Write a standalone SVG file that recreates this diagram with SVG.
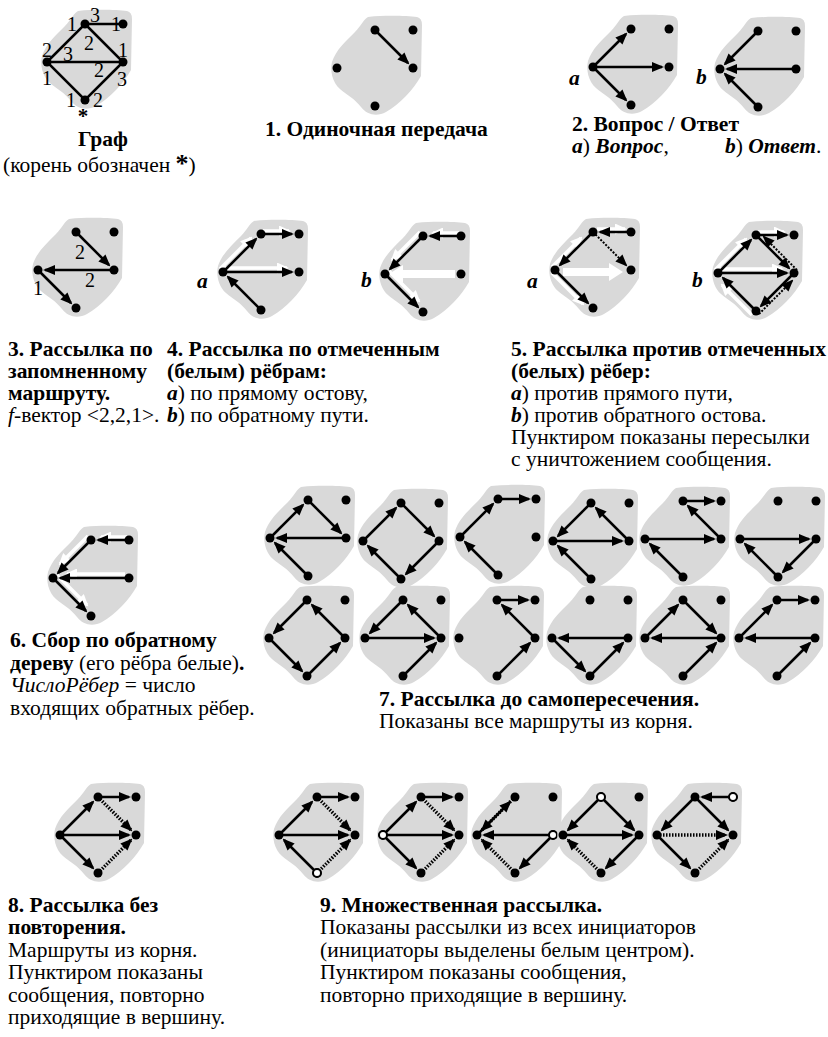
<svg xmlns="http://www.w3.org/2000/svg" width="828" height="1037" viewBox="0 0 828 1037" font-family="'Liberation Serif', 'DejaVu Serif', serif">
<style>
text{font-family:'Liberation Serif','DejaVu Serif',serif;font-size:21.5px;fill:#000}
.b{font-weight:bold}
.i{font-style:italic}
.bi{font-weight:bold;font-style:italic}
.n{font-size:20px;text-anchor:middle}
.blob{fill:#d9d9d9}
.e{stroke:#000;stroke-width:2.5;fill:none}
.k{stroke:#000;stroke-width:2.5;fill:none;marker-end:url(#ah)}
.w{stroke:#fff;stroke-width:3.5;fill:none;marker-end:url(#wh)}
.W{stroke:#fff;stroke-width:8;fill:none;marker-end:url(#WH)}
.d{stroke:#000;stroke-width:2;stroke-dasharray:2 1.5;fill:none;marker-end:url(#ah)}
.D{stroke:#000;stroke-width:3.5;stroke-dasharray:1.5 1.5;fill:none;marker-end:url(#ah)}
.dot{fill:#000}
.ini{fill:#fff;stroke:#000;stroke-width:2}
</style>
<defs>
<marker id="ah" viewBox="0 0 12 10" refX="10" refY="5" markerWidth="12" markerHeight="10" markerUnits="userSpaceOnUse" orient="auto"><path d="M0,0 L12,5 L0,10 Z" fill="#000"/></marker>
<marker id="wh" viewBox="0 0 12 11" refX="10" refY="5.5" markerWidth="12" markerHeight="11" markerUnits="userSpaceOnUse" orient="auto"><path d="M0,0 L12,5.5 L0,11 Z" fill="#fff"/></marker>
<marker id="WH" viewBox="0 0 14 18" refX="4" refY="9" markerWidth="14" markerHeight="18" markerUnits="userSpaceOnUse" orient="auto"><path d="M0,0 L14,9 L0,18 Z" fill="#fff"/></marker>
<path id="blob" d="M31,-51 C50,-53 70,-52 80,-51 Q85,-50 85,-43 L84,8 C76,22 63,36 49,44 C40,49 30,47 24,39 C18,31 10,27 3,21 C-5,14 -7,2 -5,-6 C-1,-18 8,-26 18,-36 C24,-42 26,-48 31,-51 Z"/>
<g id="dots"><circle cx="0" cy="0" r="4.5"/><circle cx="38" cy="-38" r="4.5"/><circle cx="76" cy="-38" r="4.5"/><circle cx="76" cy="0" r="4.5"/><circle cx="38" cy="38" r="4.5"/></g>
</defs>

<!-- Graph -->
<g id="graph">
<g transform="translate(47,62)">
<use href="#blob" class="blob"/>
<path class="e" d="M0,0 L38,-38 L76,-38 M38,-38 L76,0 L0,0 L38,38 L76,0"/>
<use href="#dots" class="dot"/>
</g>
<text class="n" x="72" y="31">1</text>
<text class="n" x="95" y="22">3</text>
<text class="n" x="116" y="31">1</text>
<text class="n" x="47" y="57">2</text>
<text class="n" x="68" y="61">3</text>
<text class="n" x="89" y="50">2</text>
<text class="n" x="123" y="57">1</text>
<text class="n" x="99" y="77">2</text>
<text class="n" x="122" y="86">3</text>
<text class="n" x="47" y="85">1</text>
<text class="n" x="71" y="107">1</text>
<text class="n" x="98" y="107">2</text>
<text class="b" x="83" y="123" style="font-size:21px;text-anchor:middle">*</text>
<text class="b" x="78" y="146">Граф</text>
<text x="3" y="172">(корень обозначен <tspan class="b" style="font-size:26px">*</tspan>)</text>
</g>

<!-- 1 -->
<g id="p1">
<g transform="translate(337,68)">
<use href="#blob" class="blob"/>
<path class="k" d="M38,-38 L71,-5"/>
<use href="#dots" class="dot"/>
</g>
<text class="b" x="265" y="136">1. Одиночная передача</text>
</g>

<!-- 2 -->
<g id="p2">
<g transform="translate(593,67)">
<use href="#blob" class="blob"/>
<path class="k" d="M0,0 L33,-33"/><path class="k" d="M0,0 L69,0"/><path class="k" d="M0,0 L33,33"/>
<use href="#dots" class="dot"/>
</g>
<g transform="translate(720,69)">
<use href="#blob" class="blob"/>
<path class="k" d="M38,-38 L5,-5"/><path class="k" d="M76,0 L7,0"/><path class="k" d="M38,38 L5,5"/>
<use href="#dots" class="dot"/>
</g>
<text class="bi" x="569" y="85">a</text>
<text class="bi" x="696" y="84">b</text>
<text class="b" x="572" y="131">2. Вопрос / Ответ</text>
<text x="572" y="153"><tspan class="bi">a</tspan>) <tspan class="bi">Вопрос</tspan>,</text>
<text x="725" y="153"><tspan class="bi">b</tspan>) <tspan class="bi">Ответ</tspan>.</text>
</g>

<!-- 3 -->
<g id="p3">
<g transform="translate(38,270)">
<use href="#blob" class="blob"/>
<path class="k" d="M38,-38 L71,-5"/><path class="k" d="M76,0 L7,0"/><path class="k" d="M0,0 L33,33"/>
<use href="#dots" class="dot"/>
<text class="n" x="42" y="-11">2</text>
<text class="n" x="52" y="17">2</text>
<text class="n" x="0" y="25">1</text>
</g>
<text class="b" x="8" y="356">3. Рассылка по</text>
<text class="b" x="8" y="378">запомненному</text>
<text class="b" x="8" y="400">маршруту.</text>
<text x="8" y="422"><tspan class="i">f</tspan>-вектор &lt;2,2,1&gt;.</text>
</g>

<!-- 4 -->
<g id="p4">
<g transform="translate(223,272)">
<use href="#blob" class="blob"/>
<path class="w" d="M-3,-3 L28,-34"/><path class="w" d="M40,-41 L66,-41"/><path class="w" d="M2,-4 L64,-4"/>
<path class="k" d="M0,0 L33,-33"/><path class="k" d="M38,-38 L69,-38"/><path class="k" d="M0,0 L69,0"/><path class="k" d="M38,38 L5,5"/>
<use href="#dots" class="dot"/>
</g>
<g transform="translate(385,274)">
<use href="#blob" class="blob"/>
<path class="W" d="M70,0 L14,0"/>
<path class="w" d="M74,-41 L48,-41"/><path class="w" d="M35,-42 L7,-14"/><path class="w" d="M4,-3 L34,27"/>
<path class="k" d="M76,-38 L45,-38"/><path class="k" d="M38,-38 L5,-5"/><path class="k" d="M0,0 L33,33"/>
<use href="#dots" class="dot"/>
</g>
<text class="bi" x="197" y="288">a</text>
<text class="bi" x="361" y="287">b</text>
<text class="b" x="167" y="356">4. Рассылка по отмеченным</text>
<text class="b" x="167" y="378">(белым) рёбрам:</text>
<text x="167" y="400"><tspan class="bi">a</tspan>) по прямому остову,</text>
<text x="167" y="422"><tspan class="bi">b</tspan>) по обратному пути.</text>
</g>

<!-- 5 -->
<g id="p5">
<g transform="translate(555,270)">
<use href="#blob" class="blob"/>
<path class="W" d="M8,2 L58,2"/>
<path class="w" d="M-3,-3 L26,-32"/><path class="w" d="M42,-41 L70,-41"/><path class="w" d="M-3,3 L28,34"/>
<path class="k" d="M76,-38 L45,-38"/><path class="k" d="M38,-38 L5,-5"/><path class="k" d="M0,0 L33,33"/>
<path class="d" d="M38,-38 L71,-5"/>
<use href="#dots" class="dot"/>
</g>
<g transform="translate(718,273)">
<use href="#blob" class="blob"/>
<path class="w" d="M-3,-3 L28,-34"/><path class="w" d="M40,-41 L66,-41"/><path class="w" d="M2,-4 L64,-4"/><path class="w" d="M34,42 L4,12"/>
<path class="k" d="M0,0 L33,-33"/><path class="k" d="M38,-38 L69,-38"/><path class="k" d="M0,0 L69,0"/><path class="k" d="M38,38 L5,5"/><path class="k" d="M38,-38 L71,-5"/><path class="k" d="M76,0 L43,33"/>
<path class="d" d="M79,-3 L46,-36"/><path class="d" d="M41,41 L74,8"/>
<use href="#dots" class="dot"/>
</g>
<text class="bi" x="527" y="288">a</text>
<text class="bi" x="692" y="287">b</text>
<text class="b" x="511" y="356">5. Рассылка против отмеченных</text>
<text class="b" x="511" y="378">(белых) рёбер:</text>
<text x="511" y="400"><tspan class="bi">a</tspan>) против прямого пути,</text>
<text x="511" y="422"><tspan class="bi">b</tspan>) против обратного остова.</text>
<text x="511" y="444">Пунктиром показаны пересылки</text>
<text x="511" y="466">с уничтожением сообщения.</text>
</g>

<!-- 6 -->
<g id="p6">
<g transform="translate(53,578)">
<use href="#blob" class="blob"/>
<path class="w" d="M74,-41 L48,-41"/><path class="w" d="M35,-42 L7,-14"/><path class="w" d="M72,-4 L14,-4"/><path class="w" d="M4,-3 L34,27"/>
<path class="k" d="M76,-38 L45,-38"/><path class="k" d="M38,-38 L5,-5"/><path class="k" d="M76,0 L7,0"/><path class="k" d="M0,0 L33,33"/>
<use href="#dots" class="dot"/>
</g>
<text class="b" x="10" y="647">6. Сбор по обратному</text>
<text x="10" y="670"><tspan class="b">дереву</tspan> (его рёбра белые)<tspan class="b">.</tspan></text>
<text x="10" y="692"><tspan class="i">ЧислоРёбер</tspan> = число</text>
<text x="10" y="715">входящих обратных рёбер.</text>
</g>

<!-- 7 -->
<g id="p7">
<g transform="translate(270,538)"><use href="#blob" class="blob"/>
<path class="k" d="M0,0 L33,-33"/><path class="k" d="M38,-38 L71,-5"/><path class="k" d="M76,0 L7,0"/><path class="k" d="M38,38 L5,5"/><use href="#dots" class="dot"/></g>
<g transform="translate(363,541)"><use href="#blob" class="blob"/>
<path class="k" d="M0,0 L33,-33"/><path class="k" d="M38,-38 L71,-5"/><path class="k" d="M76,0 L43,33"/><path class="k" d="M38,38 L5,5"/><use href="#dots" class="dot"/></g>
<g transform="translate(460,537)"><use href="#blob" class="blob"/>
<path class="k" d="M0,0 L33,-33"/><path class="k" d="M38,-38 L69,-38"/><path class="k" d="M38,38 L5,5"/><use href="#dots" class="dot"/></g>
<g transform="translate(553,541)"><use href="#blob" class="blob"/>
<path class="k" d="M38,-38 L5,-5"/><path class="k" d="M76,0 L43,-33"/><path class="k" d="M0,0 L69,0"/><path class="k" d="M38,38 L5,5"/><use href="#dots" class="dot"/></g>
<g transform="translate(645,539)"><use href="#blob" class="blob"/>
<path class="k" d="M38,-38 L69,-38"/><path class="k" d="M76,0 L43,-33"/><path class="k" d="M0,0 L69,0"/><path class="k" d="M38,38 L5,5"/><use href="#dots" class="dot"/></g>
<g transform="translate(740,539)"><use href="#blob" class="blob"/>
<path class="k" d="M0,0 L69,0"/><path class="k" d="M76,0 L43,33"/><path class="k" d="M38,38 L5,5"/><use href="#dots" class="dot"/></g>

<g transform="translate(269,638)"><use href="#blob" class="blob"/>
<path class="k" d="M38,38 L71,5"/><path class="k" d="M76,0 L43,-33"/><path class="k" d="M38,-38 L5,-5"/><path class="k" d="M0,0 L33,33"/><use href="#dots" class="dot"/></g>
<g transform="translate(365,638)"><use href="#blob" class="blob"/>
<path class="k" d="M38,38 L71,5"/><path class="k" d="M76,0 L43,-33"/><path class="k" d="M38,-38 L5,-5"/><path class="k" d="M0,0 L69,0"/><use href="#dots" class="dot"/></g>
<g transform="translate(459,638)"><use href="#blob" class="blob"/>
<path class="k" d="M38,38 L71,5"/><path class="k" d="M76,0 L43,-33"/><path class="k" d="M38,-38 L69,-38"/><use href="#dots" class="dot"/></g>
<g transform="translate(552,638)"><use href="#blob" class="blob"/>
<path class="k" d="M38,38 L71,5"/><path class="k" d="M76,0 L7,0"/><path class="k" d="M0,0 L33,33"/><use href="#dots" class="dot"/></g>
<g transform="translate(645,638)"><use href="#blob" class="blob"/>
<path class="k" d="M38,38 L71,5"/><path class="k" d="M76,0 L7,0"/><path class="k" d="M0,0 L33,-33"/><path class="k" d="M38,-38 L71,-5"/><use href="#dots" class="dot"/></g>
<g transform="translate(739,638)"><use href="#blob" class="blob"/>
<path class="k" d="M38,38 L71,5"/><path class="k" d="M76,0 L7,0"/><path class="k" d="M0,0 L33,-33"/><path class="k" d="M38,-38 L69,-38"/><use href="#dots" class="dot"/></g>
<text class="b" x="379" y="706">7. Рассылка до самопересечения.</text>
<text x="379" y="728">Показаны все маршруты из корня.</text>
</g>

<!-- 8 -->
<g id="p8">
<g transform="translate(60,835)"><use href="#blob" class="blob"/>
<path class="k" d="M0,0 L33,-33"/><path class="k" d="M38,-38 L69,-38"/><path class="k" d="M0,0 L69,0"/><path class="k" d="M0,0 L33,33"/>
<path class="D" d="M38,-38 L71,-5"/><path class="D" d="M38,38 L71,5"/>
<use href="#dots" class="dot"/></g>
<text class="b" x="8" y="912">8. Рассылка без</text>
<text class="b" x="8" y="934">повторения.</text>
<text x="8" y="957">Маршруты из корня.</text>
<text x="8" y="979">Пунктиром показаны</text>
<text x="8" y="1002">сообщения, повторно</text>
<text x="8" y="1024">приходящие в вершину.</text>
</g>

<!-- 9 -->
<g id="p9">
<g transform="translate(279,835)"><use href="#blob" class="blob"/>
<path class="k" d="M0,0 L33,-33"/><path class="k" d="M38,-38 L69,-38"/><path class="k" d="M0,0 L69,0"/><path class="k" d="M38,38 L5,5"/>
<path class="D" d="M38,-38 L71,-5"/><path class="D" d="M38,38 L71,5"/>
<use href="#dots" class="dot"/><circle class="ini" cx="38" cy="38" r="4"/></g>
<g transform="translate(383,835)"><use href="#blob" class="blob"/>
<path class="k" d="M0,0 L33,-33"/><path class="k" d="M38,-38 L69,-38"/><path class="k" d="M0,0 L69,0"/><path class="k" d="M0,0 L33,33"/>
<path class="D" d="M38,-38 L71,-5"/><path class="D" d="M38,38 L71,5"/>
<use href="#dots" class="dot"/><circle class="ini" cx="0" cy="0" r="4"/></g>
<g transform="translate(477,835)"><use href="#blob" class="blob"/>
<path class="k" d="M76,0 L7,0"/><path class="k" d="M0,0 L33,-33"/><path class="k" d="M76,0 L43,33"/>
<path class="D" d="M38,-38 L5,-5"/><path class="D" d="M38,38 L5,5"/>
<use href="#dots" class="dot"/><circle class="ini" cx="76" cy="0" r="4"/></g>
<g transform="translate(563,835)"><use href="#blob" class="blob"/>
<path class="k" d="M38,-38 L5,-5"/><path class="k" d="M38,-38 L71,-5"/><path class="k" d="M0,0 L69,0"/><path class="k" d="M76,0 L43,33"/>
<path class="D" d="M38,38 L5,5"/>
<use href="#dots" class="dot"/><circle class="ini" cx="38" cy="-38" r="4"/></g>
<g transform="translate(657,835)"><use href="#blob" class="blob"/>
<path class="k" d="M76,-38 L45,-38"/><path class="k" d="M38,-38 L5,-5"/><path class="k" d="M38,-38 L71,-5"/><path class="k" d="M0,0 L33,33"/>
<path class="D" d="M0,0 L69,0"/><path class="D" d="M38,38 L71,5"/>
<use href="#dots" class="dot"/><circle class="ini" cx="76" cy="-38" r="4"/></g>
<text class="b" x="320" y="912">9. Множественная рассылка.</text>
<text x="320" y="934">Показаны рассылки из всех инициаторов</text>
<text x="320" y="957">(инициаторы выделены белым центром).</text>
<text x="320" y="979">Пунктиром показаны сообщения,</text>
<text x="320" y="1002">повторно приходящие в вершину.</text>
</g>
</svg>
